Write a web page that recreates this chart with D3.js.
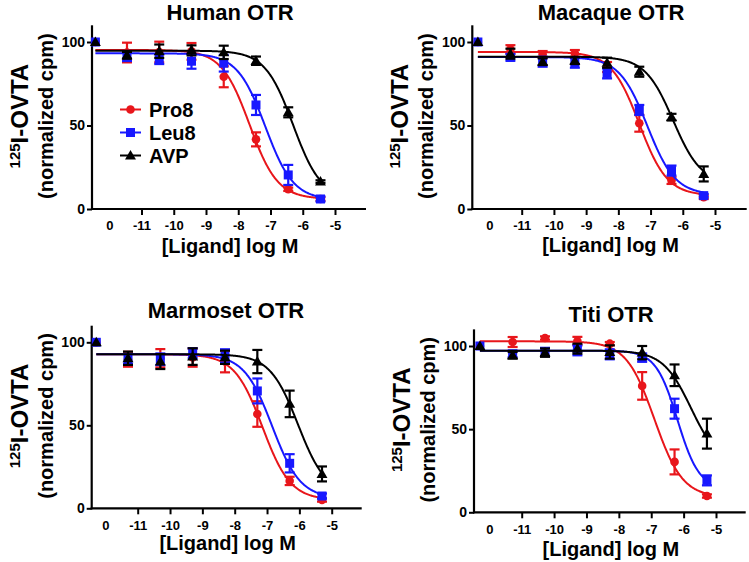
<!DOCTYPE html>
<html><head><meta charset="utf-8">
<script src="https://cdn.jsdelivr.net/npm/d3@7"></script>
<style>
body{margin:0;background:#fff}
svg{display:block}
text{font-family:"Liberation Sans",Arial,Helvetica,sans-serif;font-weight:bold;fill:#000}
</style>
</head><body>
<svg id="chart" width="749" height="562"></svg>
<script>
// ---------------- data ----------------
const panelTitles = ["Human OTR", "Macaque OTR", "Marmoset OTR", "Titi OTR"];
const seriesNames = ["Pro8", "Leu8", "AVP"];
const seriesColors = ["#e8161b", "#1818ff", "#000000"];
const xTickValues = [-12, -11, -10, -9, -8, -7, -6, -5];
const xTickLabels = ["0", "-11", "-10", "-9", "-8", "-7", "-6", "-5"];
const yTickValues = [0, 50, 100];
const xAxisLabel = "[Ligand] log M";

// control (no ligand) position and dose positions (log M) per panel
const controlLogM = [-12.43, -12.36, -12.28, -12.29];
const humanDoses = [-11.45, -10.45, -9.45, -8.45, -7.45, -6.45, -5.45];
const macaqueDoses = [-11.35, -10.35, -9.35, -8.35, -7.35, -6.35, -5.35];
const marmosetDoses = [-11.3, -10.3, -9.3, -8.3, -7.3, -6.3, -5.3];
const titiDoses = [-11.28, -10.28, -9.28, -8.28, -7.28, -6.28, -5.28];

// control values [Pro8, Leu8, AVP]
const humanControl = [100, 100, 100];
const macaqueControl = [100, 100, 100];
const marmosetControl = [100, 100, 100];
const titiControl = [100, 100, 100];

// means: rows Pro8, Leu8, AVP
const humanMean = [
  [93.7, 94, 94.4, 79.2, 41.7, 11.8, 6],
  [91.6, 89.8, 88.5, 87.3, 62.3, 20.4, 6],
  [92, 94.5, 95, 93.8, 88.8, 57.9, 16.4]
];
const humanSEM = [
  [5.9, 6.2, 5, 6.3, 4.2, 1, 1],
  [3, 3, 4.5, 5, 6, 6, 1.5],
  [2, 4, 3, 4, 2.5, 3, 0.8]
];
const macaqueMean = [
  [95.6, 92.6, 93.2, 85, 51.3, 17, 7],
  [90.8, 88.2, 87.6, 81.2, 59.3, 23, 8],
  [93, 88.2, 88.8, 87.6, 82.2, 55, 21]
];
const macaqueSEM = [
  [2.5, 2, 2, 3, 5, 2, 1],
  [2, 3, 3, 3, 3, 3, 1],
  [3, 2, 2, 3, 3, 2, 4.5]
];
const marmosetMean = [
  [89.8, 90.4, 90.8, 88.4, 56.8, 16.5, 5],
  [90, 89.8, 93.4, 91.8, 70.7, 27.1, 7.4],
  [90.4, 88.4, 91.4, 91, 88.4, 62.9, 20.7]
];
const marmosetSEM = [
  [4.5, 5.5, 5.5, 6.5, 7.7, 2.5, 1],
  [3, 3.5, 3, 4, 7.5, 5.5, 1.5],
  [4, 4.5, 5, 4, 7, 8, 4.5]
];
const titiMean = [
  [102.4, 104.8, 103, 101.4, 76, 30.3, 9.8],
  [95.2, 96.4, 97.4, 95, 93, 62.3, 19.2],
  [94.4, 96, 98.4, 96.4, 96, 82.4, 47.3]
];
const titiSEM = [
  [3, 1, 2.5, 1, 8.3, 7.5, 1],
  [2, 2.5, 3, 3, 2.5, 6, 3],
  [2, 2.5, 3, 4, 4, 6.5, 9]
];

// fitted curves [top, bottom, logIC50, hill]
const humanFit = [[95.2, 6, -7.65, 1], [93.2, 5.5, -7.16, 1], [94.8, 6, -6.30, 1]];
const macaqueFit = [[94, 8, -7.35, 1], [91, 8.5, -7.1, 1], [91.2, 15, -6.30, 1]];
const marmosetFit = [[92.8, 5, -7.14, 1], [92.8, 6, -6.84, 1], [92.8, 8, -6.04, 1]];
const titiFit = [[102.8, 9, -6.9, 1], [97.2, 14, -6.19, 1.3], [97.2, 28, -5.77, 1]];

// ---------------- layout (pixels) ----------------
const layout = [
  {axisX: 92,    x11: 141.5, x5: 335,   right: 366,   y0: 209,   y100: 42,  titleX: 230, titleY: 20,  xlabY: 253},
  {axisX: 472.3, x11: 521.7, x5: 715,   right: 746.7, y0: 209,   y100: 42,  titleX: 611, titleY: 20,  xlabY: 252},
  {axisX: 91.7,  x11: 137.7, x5: 331.7, right: 361.7, y0: 508.3, y100: 342.3, titleX: 226, titleY: 318, xlabY: 550},
  {axisX: 474,   x11: 521.7, x5: 716,   right: 745.7, y0: 512.3, y100: 346, titleX: 611, titleY: 322, xlabY: 556}
];

const panelData = [
  {doses: humanDoses, control: humanControl, mean: humanMean, sem: humanSEM, fit: humanFit},
  {doses: macaqueDoses, control: macaqueControl, mean: macaqueMean, sem: macaqueSEM, fit: macaqueFit},
  {doses: marmosetDoses, control: marmosetControl, mean: marmosetMean, sem: marmosetSEM, fit: marmosetFit},
  {doses: titiDoses, control: titiControl, mean: titiMean, sem: titiSEM, fit: titiFit}
];

const svg = d3.select("#chart");
const yMax = 110;
const FONT = "'Liberation Sans',Arial,sans-serif";

function marker(g, type, x, y, color) {
  if (type === 0) {
    g.append("circle").attr("cx", x).attr("cy", y).attr("r", 4.3).attr("fill", color);
  } else if (type === 1) {
    g.append("rect").attr("x", x - 4.5).attr("y", y - 4.5).attr("width", 9).attr("height", 9).attr("fill", color);
  } else {
    g.append("path").attr("d", d3.symbol(d3.symbolTriangle, 52)()).attr("transform", `translate(${x},${y + 0.8})`).attr("fill", color);
  }
}

panelData.forEach((pd, pi) => {
  const L = layout[pi];
  const x = d3.scaleLinear().domain([-11, -5]).range([L.x11, L.x5]);
  const y = d3.scaleLinear().domain([0, 100]).range([L.y0, L.y100]);
  const g = svg.append("g");

  // title
  g.append("text").attr("x", L.titleX).attr("y", L.titleY).attr("text-anchor", "middle")
    .style("font-size", "22px").text(panelTitles[pi]);

  // y axis
  const yAxis = d3.axisLeft(y).tickValues(yTickValues).tickSize(5).tickPadding(2).tickFormat(d3.format("d"));
  const ya = g.append("g").attr("transform", `translate(${L.axisX},0)`).call(yAxis);
  ya.select(".domain").remove();
  ya.selectAll(".tick line").attr("stroke", "#000").attr("stroke-width", 2);
  ya.selectAll(".tick text").style("font-size", "14px").style("font-family", FONT).style("font-weight", "bold");
  g.append("line").attr("x1", L.axisX).attr("x2", L.axisX).attr("y1", y(yMax)).attr("y2", L.y0 + 1)
    .attr("stroke", "#000").attr("stroke-width", 2.2);

  // x axis
  const xAxis = d3.axisBottom(x).tickValues(xTickValues).tickSize(6).tickPadding(6)
    .tickFormat((d, i) => xTickLabels[i]);
  const xa = g.append("g").attr("transform", `translate(0,${L.y0})`).call(xAxis);
  xa.select(".domain").remove();
  xa.selectAll(".tick line").attr("stroke", "#000").attr("stroke-width", 2)
    .attr("display", d => d === -12 ? "none" : null);
  xa.selectAll(".tick text").style("font-size", "13px").style("font-family", FONT).style("font-weight", "bold");
  g.append("line").attr("x1", L.axisX - 1).attr("x2", L.right).attr("y1", L.y0).attr("y2", L.y0)
    .attr("stroke", "#000").attr("stroke-width", 2.2);

  // x label
  g.append("text").attr("x", (L.axisX + L.right) / 2 + 1).attr("y", L.xlabY).attr("text-anchor", "middle")
    .style("font-size", "20px").text(xAxisLabel);

  // y label (two lines, rotated)
  const cy = (y(yMax) + L.y0) / 2 - 1;
  const t1 = g.append("text").attr("transform", `translate(${L.axisX - 64},${cy}) rotate(-90)`)
    .attr("text-anchor", "middle").style("font-size", "24px");
  t1.append("tspan").text("125").style("font-size", "15px").attr("dy", "-8");
  t1.append("tspan").text("I-OVTA").attr("dy", "8");
  g.append("text").attr("transform", `translate(${L.axisX - 39},${cy}) rotate(-90)`)
    .attr("text-anchor", "middle").style("font-size", "20px").text("(normalized cpm)");

  // series
  seriesNames.forEach((name, si) => {
    const color = seriesColors[si];
    const sg = g.append("g");
    const f = pd.fit[si];
    const xs = d3.range(controlLogM[pi], pd.doses[pd.doses.length - 1] + 0.001, 0.02);
    const line = d3.line().x(d => x(d)).y(d => y(f[1] + (f[0] - f[1]) / (1 + Math.pow(10, f[3] * (d - f[2])))));
    sg.append("path").attr("d", line(xs)).attr("fill", "none").attr("stroke", color).attr("stroke-width", 2);

    // error bars
    pd.doses.forEach((dx, k) => {
      const m = pd.mean[si][k], e = pd.sem[si][k];
      const px = x(dx);
      sg.append("line").attr("x1", px).attr("x2", px).attr("y1", y(m - e)).attr("y2", y(m + e))
        .attr("stroke", color).attr("stroke-width", 2.2);
      [m - e, m + e].forEach(v => {
        sg.append("line").attr("x1", px - 5).attr("x2", px + 5).attr("y1", y(v)).attr("y2", y(v))
          .attr("stroke", color).attr("stroke-width", 2.2);
      });
    });
    // markers
    marker(sg, si, x(controlLogM[pi]), y(pd.control[si]), color);
    pd.doses.forEach((dx, k) => marker(sg, si, x(dx), y(pd.mean[si][k]), color));
  });

  // legend (first panel only)
  if (pi === 0) {
    const lg = g.append("g");
    const legY = [109.5, 132.5, 155.5];
    seriesNames.forEach((name, si) => {
      lg.append("line").attr("x1", 120).attr("x2", 141).attr("y1", legY[si]).attr("y2", legY[si])
        .attr("stroke", seriesColors[si]).attr("stroke-width", 2);
      marker(lg, si, 130.5, legY[si], seriesColors[si]);
      lg.append("text").attr("x", 149).attr("y", legY[si] + 7.5).style("font-size", "20px").text(name);
    });
  }
});
</script>
</body></html>
